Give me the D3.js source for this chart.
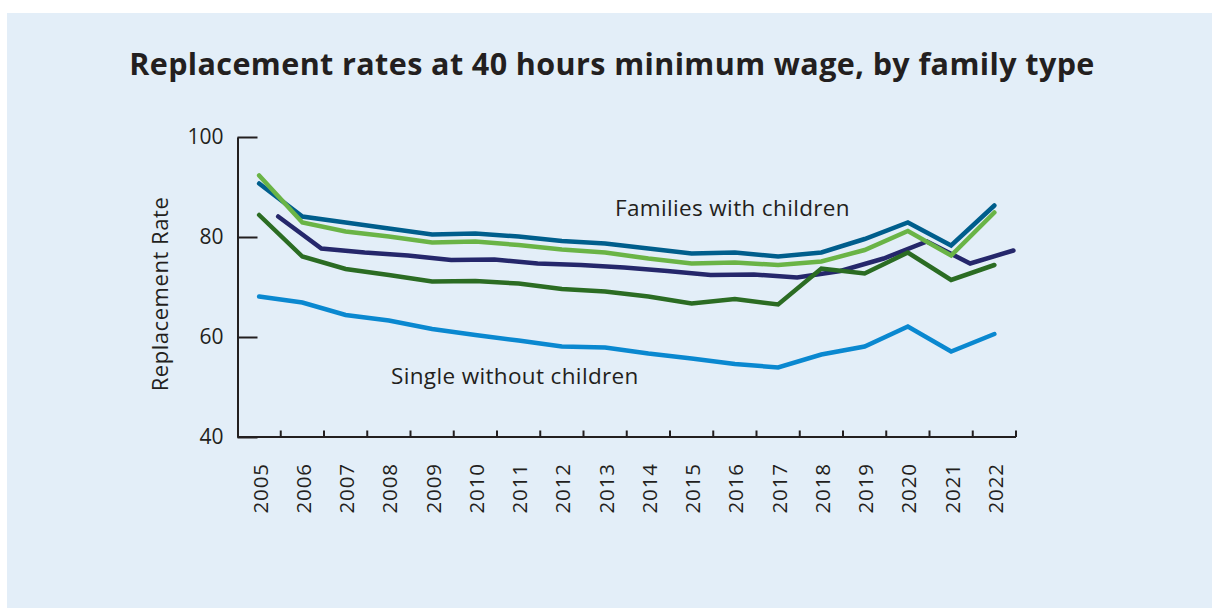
<!DOCTYPE html>
<html>
<head>
<meta charset="utf-8">
<script src="https://cdn.jsdelivr.net/npm/d3@7"></script>
<style>
  html, body { margin: 0; padding: 0; background: #ffffff; }
  svg { display: block; }
  text { font-family: "Open Sans", "Noto Sans", sans-serif; fill: #231f20; }
</style>
</head>
<body>
<svg id="chart" width="1212" height="608"></svg>
<script>
// Years on the x axis
const years = ["2005","2006","2007","2008","2009","2010","2011","2012","2013",
               "2014","2015","2016","2017","2018","2019","2020","2021","2022"];

// Replacement rates (%) by family type
const familiesA = [90.7, 84.1, 82.9, 81.7, 80.5, 80.7, 80.1, 79.2, 78.7, 77.7, 76.7, 76.9, 76.1, 76.9, 79.6, 82.9, 78.3, 86.3];
const familiesB = [92.3, 82.9, 81.1, 80.1, 78.9, 79.1, 78.4, 77.5, 76.9, 75.7, 74.7, 74.9, 74.4, 75.1, 77.4, 81.2, 76.3, 84.9];
const familiesC = [84.1, 77.7, 76.9, 76.3, 75.4, 75.5, 74.7, 74.4, 73.9, 73.2, 72.4, 72.5, 71.9, 73.2, 75.7, 79.1, 74.7, 77.3];
const familiesD = [84.4, 76.1, 73.6, 72.4, 71.1, 71.2, 70.7, 69.6, 69.1, 68.1, 66.7, 67.6, 66.5, 73.7, 72.7, 76.9, 71.4, 74.4];
const singleNoChildren = [68.1, 66.9, 64.4, 63.3, 61.6, 60.4, 59.3, 58.1, 57.9, 56.7, 55.7, 54.6, 53.9, 56.5, 58.1, 62.1, 57.1, 60.6];

const yTicks = [40, 60, 80, 100];

const svg = d3.select("#chart");

// Background panel
svg.append("rect").attr("x", 7).attr("y", 13).attr("width", 1205).attr("height", 595)
  .attr("fill", "#e3eef8");

// Title
svg.append("text")
  .attr("x", 612).attr("y", 75)
  .attr("text-anchor", "middle")
  .attr("font-size", 30.5).attr("font-weight", 700)
  .attr("letter-spacing", 0.4)
  .text("Replacement rates at 40 hours minimum wage, by family type");

const plotLeft = 237.5, plotRight = 1016, plotTop = 137, plotBottom = 437;

const x = d3.scaleBand().domain(years).range([plotLeft, plotRight]).padding(0);
const y = d3.scaleLinear().domain([40, 100]).range([plotBottom, plotTop]);
const bw = x.bandwidth();

// Y axis: ticks point into the plot, labels on the left
const yAxis = d3.axisLeft(y).tickValues(yTicks).tickSizeInner(-20).tickSizeOuter(0).tickPadding(14);
const gy = svg.append("g").attr("transform", `translate(${plotLeft},0)`).call(yAxis);
gy.select(".domain").attr("stroke", "#231f20").attr("stroke-width", 2);
gy.selectAll(".tick line").attr("stroke", "#231f20").attr("stroke-width", 2);
gy.selectAll(".tick text").attr("font-size", 21).attr("fill", "#231f20")
  .attr("font-family", "\"Open Sans\", sans-serif");

// Y axis title
svg.append("text")
  .attr("transform", `translate(168,${(plotTop + plotBottom) / 2 + 7}) rotate(-90)`)
  .attr("text-anchor", "middle")
  .attr("font-size", 22)
  .attr("letter-spacing", 0.55)
  .text("Replacement Rate");

// X axis: baseline with small upward ticks at band edges, year labels centred in each band
const gx = svg.append("g");
gx.append("line")
  .attr("x1", plotLeft).attr("x2", plotRight)
  .attr("y1", plotBottom).attr("y2", plotBottom)
  .attr("stroke", "#231f20").attr("stroke-width", 2);
gx.selectAll("line.xt").data(years).join("line")
  .attr("class", "xt")
  .attr("x1", d => x(d) + bw).attr("x2", d => x(d) + bw)
  .attr("y1", plotBottom).attr("y2", plotBottom - 6.5)
  .attr("stroke", "#231f20").attr("stroke-width", 2);
gx.selectAll("text").data(years).join("text")
  .attr("transform", d => `translate(${x(d) + bw / 2 + 8.5},463) rotate(-90)`)
  .attr("text-anchor", "end")
  .attr("font-size", 20.5)
  .attr("letter-spacing", 0.9)
  .text(d => d);

// Series lines
const series = [
  { name: "familiesC", values: familiesC, color: "#25276b", shift: 0.44 },
  { name: "familiesA", values: familiesA, color: "#005e8c", shift: 0 },
  { name: "familiesB", values: familiesB, color: "#6ab446", shift: 0 },
  { name: "familiesD", values: familiesD, color: "#2b6c23", shift: 0 },
  { name: "single",    values: singleNoChildren, color: "#0a88d0", shift: 0 }
];

const line = (s) => d3.line()
  .x((v, i) => x(years[i]) + bw / 2 + s.shift * bw)
  .y(v => y(v));

svg.append("g").selectAll("path").data(series).join("path")
  .attr("d", s => line(s)(s.values))
  .attr("fill", "none")
  .attr("stroke", s => s.color)
  .attr("stroke-width", 4.5)
  .attr("stroke-linejoin", "miter")
  .attr("stroke-linecap", "round");

// Annotations
svg.append("text")
  .attr("x", 615).attr("y", 216)
  .attr("font-size", 22.5)
  .attr("letter-spacing", 0.35)
  .text("Families with children");
svg.append("text")
  .attr("x", 391).attr("y", 384)
  .attr("font-size", 22.5)
  .attr("letter-spacing", 0.35)
  .text("Single without children");
</script>
</body>
</html>
